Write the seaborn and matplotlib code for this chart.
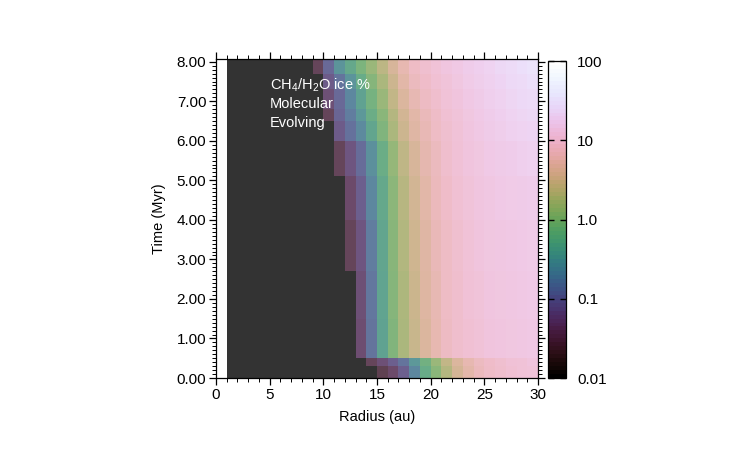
import numpy as np
import matplotlib
matplotlib.use("Agg")
import matplotlib.pyplot as plt
from matplotlib.colors import LogNorm, ListedColormap
from matplotlib.cm import ScalarMappable
import seaborn as sns

plt.rcParams['font.family'] = ['Liberation Sans', 'DejaVu Sans']
plt.rcParams['mathtext.fontset'] = 'custom'
plt.rcParams['mathtext.rm'] = 'Liberation Sans'
plt.rcParams['mathtext.it'] = 'Liberation Sans:italic'

# ---------------- data ----------------
radius_left_au = list(range(1, 30))          # 29 radial cells, 1 au wide
time_step_myr = 0.1
time_end_myr = 8.1
band_start_myr = [0.0, 0.3, 0.5, 1.5, 2.7, 4.0, 5.1, 6.0, 6.5, 6.8, 7.3, 7.7]

D = 0.01
ice_band_A = [D]*14 + [0.025, 0.04, 0.08, 0.2, 0.55, 1.1, 2.1, 3.6, 5.2, 6.8, 8.2, 9.2, 10, 10.8, 11.5]
ice_band_B = [D]*13 + [0.03, 0.05, 0.08, 0.13, 0.3, 0.7, 1.4, 2.6, 4.2, 5.8, 7.3, 8.6, 9.6, 10.5, 11, 12]
ice_band_C = [D]*12 + [0.045, 0.13, 0.4, 0.95, 1.8, 2.9, 4.2, 5.8, 7.5, 9, 10, 11, 12, 12.5, 13, 13.5, 14]
ice_band_D = [D]*12 + [0.05, 0.14, 0.42, 1.0, 1.9, 3.0, 4.4, 6.0, 7.8, 9.3, 10.5, 11.5, 12.5, 13, 13.5, 14, 14.5]
ice_band_E = [D]*11 + [0.03, 0.06, 0.16, 0.45, 1.05, 2.0, 3.2, 4.6, 6.3, 8.0, 9.5, 11, 12, 13, 13.5, 14, 14.5, 15]
ice_band_F = [D]*11 + [0.04, 0.08, 0.2, 0.5, 1.15, 2.2, 3.5, 5.0, 6.8, 8.5, 10, 11.5, 12.5, 13.5, 14.5, 15, 15.5, 16]
ice_band_G = [D]*10 + [0.03, 0.06, 0.11, 0.25, 0.6, 1.3, 2.5, 3.9, 5.5, 7.2, 9, 10.5, 12, 13, 14.5, 15.5, 16.5, 17.5, 18.5]
ice_band_H = [D]*10 + [0.07, 0.12, 0.22, 0.45, 0.9, 1.8, 3.1, 4.6, 6.2, 7.8, 9.5, 11, 12.5, 14, 15.5, 17, 18.5, 20, 21]
ice_band_I = [D]*9 + [0.03, 0.09, 0.16, 0.3, 0.6, 1.1, 2.1, 3.5, 5.0, 6.7, 8.3, 10, 11.5, 13, 14.5, 16, 18, 20, 22, 23]
ice_band_J = [D]*9 + [0.05, 0.1, 0.2, 0.4, 0.75, 1.4, 2.6, 4.2, 6.0, 7.6, 9.2, 10.8, 12.3, 14, 15.5, 17.5, 19.5, 22, 24, 26]
ice_band_K = [D]*9 + [0.07, 0.13, 0.27, 0.55, 1.0, 1.8, 3.1, 5.0, 7.0, 8.6, 10, 11.5, 13, 15, 17, 19, 21, 24, 26, 29]
ice_band_L = [D]*8 + [0.03, 0.1, 0.28, 0.5, 0.85, 1.4, 2.3, 3.8, 5.8, 7.8, 9.5, 11, 12.5, 14, 16, 18, 20.5, 23, 26, 29, 32]

ice_bands = [ice_band_A, ice_band_B, ice_band_C, ice_band_D, ice_band_E, ice_band_F,
             ice_band_G, ice_band_H, ice_band_I, ice_band_J, ice_band_K, ice_band_L]

x_major = [0, 5, 10, 15, 20, 25, 30]
y_major = [0, 1, 2, 3, 4, 5, 6, 7, 8]
cbar_ticks = [0.01, 0.1, 1, 10, 100]
cbar_labels = ["0.01", "0.1", "1.0", "10", "100"]

# ---------------- grid (row lookup into time bands) ----------------
n_rows = int(round(time_end_myr / time_step_myr))
row_mid = (np.arange(n_rows) + 0.5) * time_step_myr
band_idx = np.searchsorted(band_start_myr, row_mid, side='right') - 1
grid = np.array(ice_bands)[band_idx]

cmap = sns.cubehelix_palette(start=1.1, rot=-1.5, hue=1.0, gamma=0.9,
                             dark=0.0, light=1.0, reverse=True, as_cmap=True)
norm = LogNorm(vmin=0.01, vmax=100)

fig = plt.figure(figsize=(7.5, 4.5), dpi=100, facecolor='white')
ax = fig.add_axes([0.288, 0.16, 0.4293, 0.7089])

sns.heatmap(grid, ax=ax, cmap=cmap, norm=norm, alpha=0.8, cbar=False,
            xticklabels=False, yticklabels=False, linewidths=0, antialiased=True)

for s in ax.spines.values():
    s.set_visible(True)
    s.set_color('black')
    s.set_linewidth(0.9)

off = radius_left_au[0]
ax.set_xlim(0 - off, 30 - off)
ax.set_ylim(0, 8.07 / time_step_myr)

ax.set_xticks([r - off for r in x_major])
ax.set_xticklabels([str(r) for r in x_major], rotation=0)
ax.set_xticks([r - off for r in range(0, 31)], minor=True)
ax.set_yticks([t / time_step_myr for t in y_major])
ax.set_yticklabels([f"{t:.2f}" for t in y_major], rotation=0)
ax.set_yticks(list(range(0, 81)), minor=True)

ax.tick_params(which='both', direction='out', top=True, right=True,
               bottom=True, left=True, labeltop=False, labelright=False,
               color='black', labelcolor='black', labelsize=11)
ax.tick_params(which='major', length=5, width=0.9, pad=2)
ax.tick_params(which='minor', length=3, width=0.7)

ax.set_xlabel("Radius (au)", fontsize=10.5, labelpad=6, color='black')
ax.set_ylabel("Time (Myr)", fontsize=10.5, labelpad=8, color='black')

txt_x = 5 - off
for t, s in [(7.41, r"CH$_4$/H$_2$O ice %"), (6.93, "Molecular"), (6.45, "Evolving")]:
    ax.text(txt_x, t / time_step_myr, s, color='white', fontsize=10.5,
            ha='left', va='center')

# ---------------- colorbar ----------------
cax = fig.add_axes([0.7307, 0.16, 0.024, 0.7044])
cmap_disc = ListedColormap(cmap(np.linspace(0, 1, 80)))
sm = ScalarMappable(norm=norm, cmap=cmap_disc)
cb = fig.colorbar(sm, cax=cax)
cb.outline.set_edgecolor('black')
cb.outline.set_linewidth(0.9)
cb.set_ticks(cbar_ticks)
cb.set_ticklabels(cbar_labels)
cax.minorticks_off()
cax.tick_params(which='major', direction='in', left=True, right=True,
                length=4, width=1, color='black', labelsize=11, pad=8,
                labelcolor='black')

fig.savefig("out.png", dpi=100, facecolor='white')
